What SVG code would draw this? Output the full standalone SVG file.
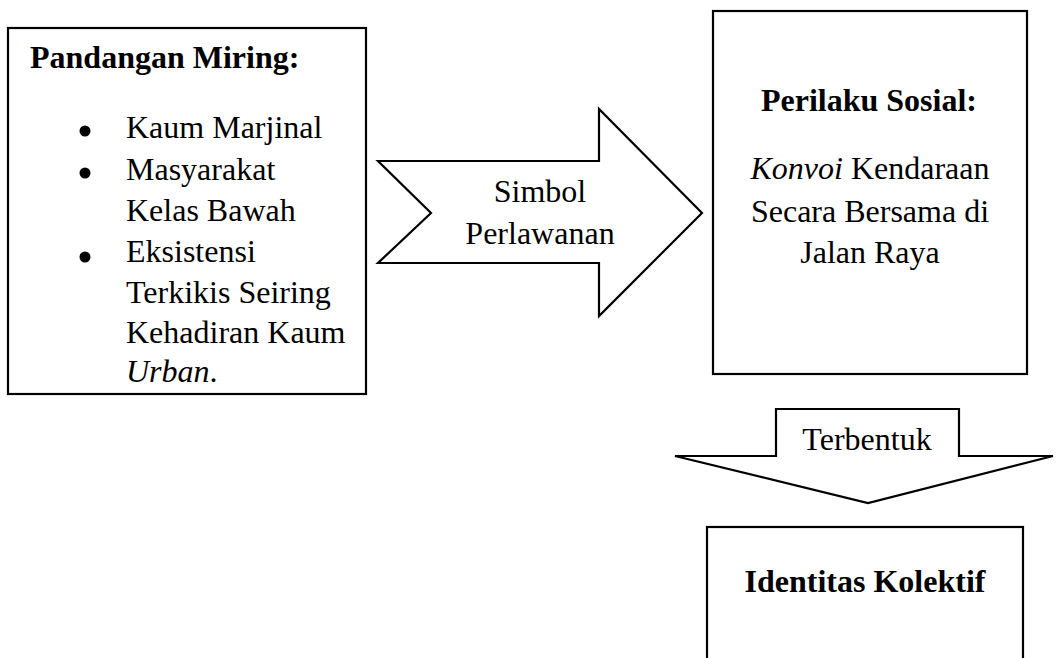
<svg xmlns="http://www.w3.org/2000/svg" width="1056" height="658" viewBox="0 0 1056 658">
<style>
.box{fill:#fff;stroke:#000;stroke-width:2.2}
.t{font-family:"Liberation Serif","Times New Roman",serif;font-size:32px;fill:#000}
.b{font-weight:bold}
.c{text-anchor:middle}
</style>
<rect width="1056" height="658" fill="#fff"/>
<g id="connectors">
  <g id="arrow-simbol">
    <polygon class="box" points="378,161 599,161 599,109 702,213 599,316 599,263 378,263 431,213"/>
    <text class="t c" x="540" y="202">Simbol</text>
    <text class="t c" x="540" y="244">Perlawanan</text>
  </g>
  <g id="arrow-terbentuk">
    <polygon class="box" points="776,409 959,409 959,456 1053,456 868,503 675,456 776,456"/>
    <text class="t c" x="867" y="450">Terbentuk</text>
  </g>
</g>
<g id="node-pandangan">
  <rect class="box" x="8" y="28" width="358" height="366"/>
  <text class="t b" x="30" y="68">Pandangan Miring:</text>
  <circle cx="85" cy="131" r="5.5"/>
  <circle cx="85" cy="173" r="5.5"/>
  <circle cx="85" cy="257" r="5.5"/>
  <text class="t" x="126" y="138">Kaum Marjinal</text>
  <text class="t" x="126" y="180">Masyarakat</text>
  <text class="t" x="126" y="221">Kelas Bawah</text>
  <text class="t" x="126" y="262">Eksistensi</text>
  <text class="t" x="126" y="303">Terkikis Seiring</text>
  <text class="t" x="126" y="343">Kehadiran Kaum</text>
  <text class="t" x="126" y="382"><tspan font-style="italic">Urban</tspan>.</text>
</g>
<g id="node-perilaku">
  <rect class="box" x="713" y="11" width="314" height="363"/>
  <text class="t b c" x="869" y="111">Perilaku Sosial:</text>
  <text class="t c" x="870" y="179"><tspan font-style="italic">Konvoi</tspan> Kendaraan</text>
  <text class="t c" x="870" y="222">Secara Bersama di</text>
  <text class="t c" x="870" y="263">Jalan Raya</text>
</g>
<g id="node-identitas">
  <rect class="box" x="707" y="527" width="316" height="160"/>
  <text class="t b c" x="865" y="592">Identitas Kolektif</text>
</g>
</svg>
